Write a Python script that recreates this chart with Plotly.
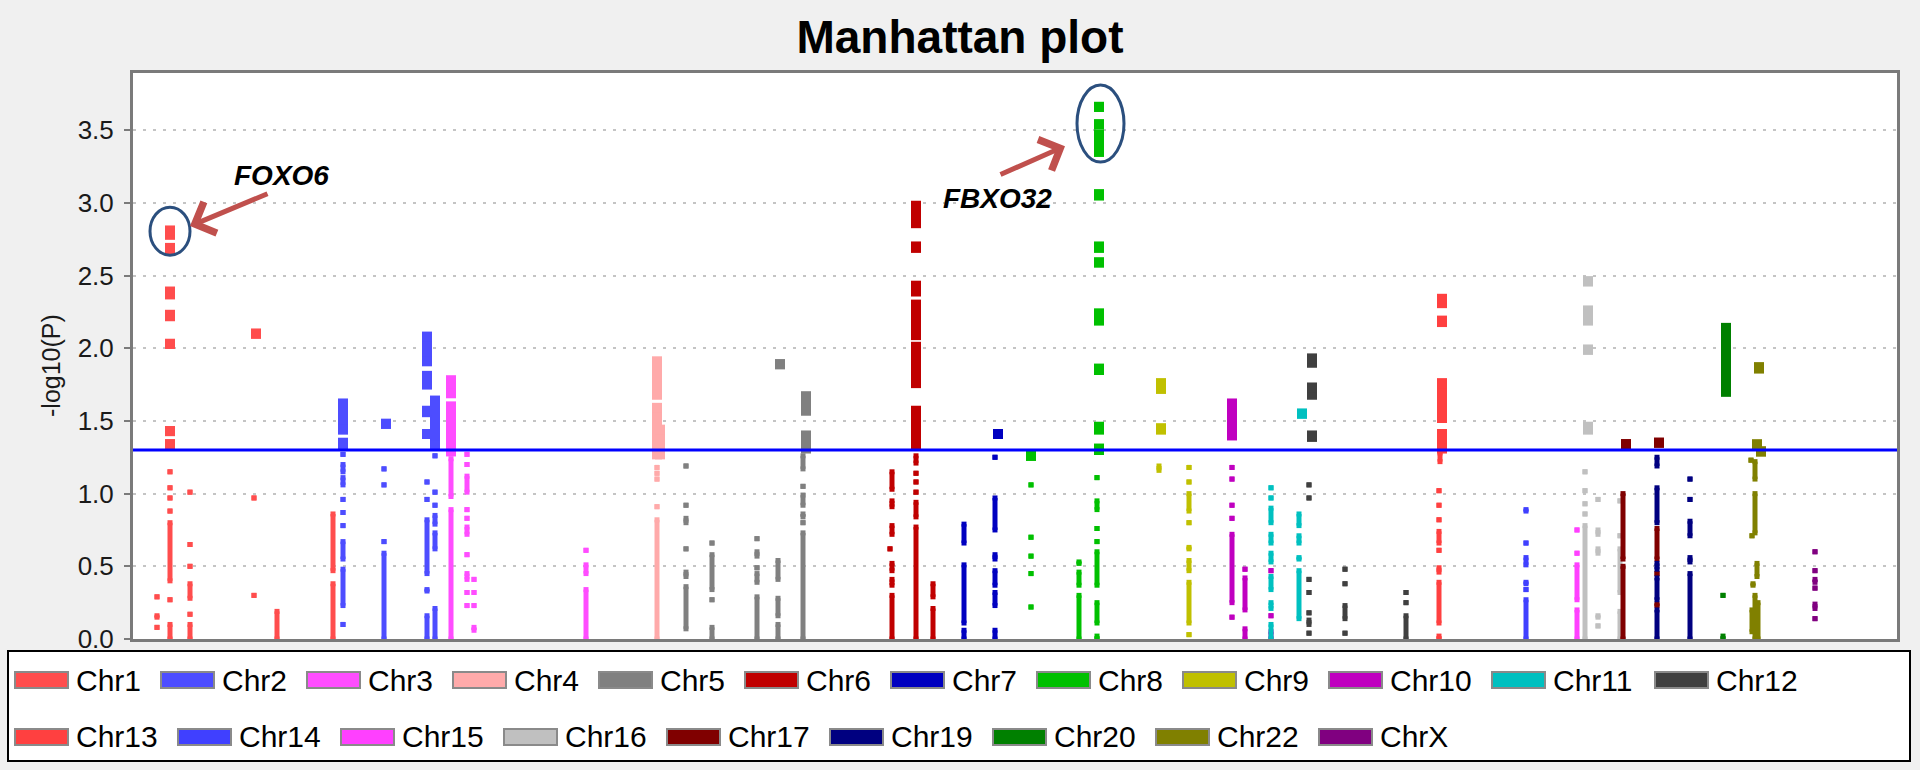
import plotly.graph_objects as go

# ---------------- data ----------------
# x = position along the genome axis (arbitrary units), values = -log10(P)
# each entry: (position, lowest -log10(P), highest -log10(P)) of a run of adjacent SNPs
CHROMS = ["Chr1", "Chr2", "Chr3", "Chr4", "Chr5", "Chr6", "Chr7", "Chr8", "Chr9", "Chr10",
          "Chr11", "Chr12", "Chr13", "Chr14", "Chr15", "Chr16", "Chr17", "Chr19", "Chr20",
          "Chr22", "ChrX"]
COLORS = ["#ff4d4d", "#4d4dff", "#ff4dff", "#ffaaaa", "#808080", "#c00000", "#0000c0",
          "#00c000", "#c0c000", "#c000c0", "#00c0c0", "#404040", "#ff4040", "#4040ff",
          "#ff40ff", "#c0c0c0", "#800000", "#000080", "#008000", "#808000", "#800080"]
THRESHOLD = 1.30  # -log10(0.05)
YTICKS = [0.0, 0.5, 1.0, 1.5, 2.0, 2.5, 3.0, 3.5]

chr1_big = [(37, 2.78, 2.81), (37, 2.68, 2.69), (37, 2.37, 2.39), (37, 2.22, 2.23),
            (37, 2.03, 2.03), (37, 1.43, 1.43), (37, 1.34, 1.34), (123, 2.10, 2.10)]
chr1_small = [(24, 0.29, 0.29), (24, 0.15, 0.16), (24, 0.08, 0.08),
              (37, 1.15, 1.15), (37, 1.04, 1.04), (37, 0.97, 0.97), (37, 0.88, 0.88),
              (37, 0.40, 0.80), (37, 0.27, 0.27), (37, 0.0, 0.10),
              (57, 1.01, 1.01), (57, 0.65, 0.65), (57, 0.50, 0.50), (57, 0.28, 0.38),
              (57, 0.17, 0.17), (57, 0.0, 0.10),
              (121, 0.97, 0.97), (121, 0.30, 0.30), (144, 0.0, 0.19),
              (200, 0.47, 0.86), (200, 0.0, 0.38)]

chr2_big = [(210, 1.44, 1.62), (210, 1.33, 1.35), (253, 1.48, 1.48),
            (294, 1.91, 2.08), (294, 1.75, 1.81), (294, 1.56, 1.57), (294, 1.41, 1.41),
            (302, 1.33, 1.64)]
chr2_small = [(210, 1.27, 1.27), (210, 1.15, 1.20), (210, 1.06, 1.11), (210, 0.96, 0.96),
              (210, 0.87, 0.87), (210, 0.78, 0.78), (210, 0.55, 0.67), (210, 0.23, 0.48),
              (210, 0.10, 0.10),
              (251, 1.17, 1.17), (251, 1.06, 1.06), (251, 0.67, 0.67), (251, 0.0, 0.59),
              (294, 1.08, 1.08), (294, 0.96, 0.96), (294, 0.45, 0.82), (294, 0.33, 0.34),
              (294, 0.0, 0.16),
              (302, 1.26, 1.26), (302, 1.01, 1.01), (302, 0.92, 0.92), (302, 0.79, 0.85),
              (302, 0.62, 0.73), (302, 0.0, 0.21)]

chr3_big = [(318, 1.69, 1.78), (318, 1.29, 1.60)]
chr3_small = [(318, 0.98, 1.24), (318, 0.0, 0.89),
              (334, 1.27, 1.27), (334, 1.20, 1.20), (334, 1.01, 1.12), (334, 0.89, 0.89),
              (334, 0.83, 0.83), (334, 0.72, 0.77), (334, 0.58, 0.58), (334, 0.41, 0.45),
              (334, 0.32, 0.32), (334, 0.23, 0.23),
              (341, 0.41, 0.41), (341, 0.32, 0.32), (341, 0.23, 0.23), (341, 0.06, 0.08),
              (453, 0.61, 0.61), (453, 0.45, 0.51), (453, 0.0, 0.34)]

chr4_big = [(524, 1.68, 1.91), (524, 1.27, 1.59), (527, 1.27, 1.44)]
chr4_small = [(524, 1.18, 1.18), (524, 1.14, 1.14), (524, 1.10, 1.10), (524, 0.91, 0.91),
              (524, 0.0, 0.82)]

chr5_big = [(647, 1.89, 1.89), (673, 1.64, 1.67), (673, 1.57, 1.60), (673, 1.31, 1.40)]
chr5_small = [(553, 1.19, 1.19), (553, 0.92, 0.92), (553, 0.80, 0.83), (553, 0.62, 0.62),
              (553, 0.43, 0.46), (553, 0.07, 0.36),
              (579, 0.66, 0.66), (579, 0.34, 0.58), (579, 0.27, 0.27), (579, 0.0, 0.08),
              (624, 0.69, 0.69), (624, 0.57, 0.60), (624, 0.49, 0.49), (624, 0.39, 0.45),
              (624, 0.0, 0.29),
              (645, 0.41, 0.54), (645, 0.16, 0.28), (645, 0.0, 0.10),
              (670, 1.17, 1.26), (670, 1.05, 1.05), (670, 0.92, 0.99), (670, 0.84, 0.86),
              (670, 0.80, 0.80), (670, 0.0, 0.73)]

chr6_big = [(783, 2.86, 2.98), (783, 2.69, 2.70), (783, 2.39, 2.43), (783, 2.09, 2.30),
            (783, 1.76, 2.01), (783, 1.33, 1.57)]
chr6_small = [(759, 1.03, 1.15), (759, 0.91, 0.95), (759, 0.72, 0.78), (757, 0.62, 0.62),
              (759, 0.47, 0.52), (759, 0.37, 0.41), (759, 0.0, 0.30),
              (783, 1.21, 1.26), (783, 1.14, 1.14), (783, 1.08, 1.08), (783, 1.01, 1.01),
              (783, 0.84, 0.94), (783, 0.0, 0.77),
              (800, 0.29, 0.38), (800, 0.0, 0.21)]

chr7_big = [(865, 1.41, 1.41)]
chr7_small = [(831, 0.66, 0.79), (831, 0.11, 0.51), (831, 0.0, 0.06),
              (862, 1.25, 1.25), (862, 0.75, 0.97), (862, 0.55, 0.58), (862, 0.37, 0.47),
              (862, 0.23, 0.32), (862, 0.0, 0.06)]

chr8_big = [(898, 1.26, 1.26), (966, 3.66, 3.66), (966, 3.54, 3.54), (966, 3.35, 3.47),
            (966, 3.05, 3.06), (966, 2.69, 2.70), (966, 2.59, 2.59), (966, 2.19, 2.24),
            (966, 1.85, 1.86), (966, 1.44, 1.46), (966, 1.30, 1.31)]
chr8_small = [(898, 1.06, 1.06), (898, 0.70, 0.70), (898, 0.57, 0.57), (898, 0.45, 0.45),
              (898, 0.22, 0.22),
              (946, 0.52, 0.53), (946, 0.37, 0.46), (946, 0.0, 0.30),
              (964, 1.11, 1.11), (964, 0.89, 0.95), (964, 0.76, 0.76), (964, 0.67, 0.67),
              (964, 0.37, 0.60), (964, 0.11, 0.25), (964, 0.0, 0.02)]

chr9_big = [(1028, 1.72, 1.76), (1028, 1.44, 1.45)]
chr9_small = [(1026, 1.16, 1.19),
              (1056, 1.18, 1.18), (1056, 1.08, 1.08), (1056, 0.88, 1.00), (1056, 0.80, 0.80),
              (1056, 0.62, 0.63), (1056, 0.47, 0.54), (1056, 0.11, 0.39), (1056, 0.03, 0.03)]

chr10_big = [(1099, 1.40, 1.62)]
chr10_small = [(1099, 1.18, 1.18), (1099, 1.10, 1.10), (1099, 0.92, 0.92), (1099, 0.83, 0.83),
               (1099, 0.25, 0.72), (1099, 0.15, 0.15),
               (1112, 0.48, 0.48), (1112, 0.20, 0.42), (1112, 0.0, 0.07)]

chr11_big = [(1169, 1.55, 1.55)]
chr11_small = [(1138, 1.04, 1.04), (1138, 0.97, 0.97), (1138, 0.80, 0.90), (1138, 0.66, 0.72),
               (1138, 0.53, 0.59), (1138, 0.34, 0.43), (1138, 0.21, 0.25), (1138, 0.0, 0.10),
               (1166, 0.78, 0.86), (1166, 0.66, 0.71), (1166, 0.55, 0.56), (1166, 0.14, 0.47)]
chr10_in11 = [(1138, 0.47, 0.47), (1138, 0.16, 0.16), (1138, 0.0, 0.05)]

chr12_big = [(1179, 1.90, 1.93), (1179, 1.68, 1.73), (1179, 1.39, 1.40)]
chr12_small = [(1176, 1.06, 1.06), (1176, 0.97, 0.97), (1176, 0.41, 0.41), (1176, 0.32, 0.32),
               (1176, 0.18, 0.18), (1176, 0.10, 0.13), (1176, 0.04, 0.04),
               (1212, 0.48, 0.48), (1212, 0.38, 0.38), (1212, 0.14, 0.23), (1212, 0.04, 0.04),
               (1273, 0.32, 0.32), (1273, 0.25, 0.25), (1273, 0.0, 0.16)]

chr13_big = [(1309, 2.31, 2.34), (1309, 2.18, 2.19), (1309, 1.52, 1.76), (1309, 1.31, 1.41)]
chr13_small = [(1307, 1.22, 1.28), (1306, 1.02, 1.02), (1306, 0.92, 0.92), (1306, 0.82, 0.82),
               (1306, 0.66, 0.74), (1306, 0.61, 0.61), (1306, 0.46, 0.49), (1306, 0.11, 0.39),
               (1306, 0.0, 0.02)]

chr14_big = []
chr14_small = [(1393, 0.88, 0.89), (1393, 0.66, 0.66), (1393, 0.51, 0.56), (1393, 0.38, 0.39),
               (1393, 0.34, 0.34), (1393, 0.0, 0.27)]

chr15_big = []
chr15_small = [(1444, 0.75, 0.75), (1444, 0.59, 0.59), (1444, 0.27, 0.51), (1444, 0.0, 0.20)]

chr16_big = [(1455, 2.46, 2.46), (1455, 2.19, 2.26), (1455, 1.99, 1.99), (1455, 1.44, 1.46)]
chr16_small = [(1452, 1.15, 1.15), (1452, 1.02, 1.02), (1452, 0.93, 0.93), (1452, 0.86, 0.86),
               (1452, 0.0, 0.78),
               (1465, 0.96, 0.96), (1465, 0.72, 0.75), (1465, 0.59, 0.62), (1465, 0.15, 0.16),
               (1465, 0.09, 0.09),
               (1487, 0.95, 0.95), (1487, 0.71, 0.71), (1487, 0.32, 0.62), (1487, 0.0, 0.19)]

chr17_big = [(1493, 1.34, 1.34), (1526, 1.35, 1.35)]
chr17_small = [(1490, 0.55, 1.00), (1490, 0.0, 0.50),
               (1524, 0.55, 0.76), (1524, 0.45, 0.45), (1524, 0.23, 0.24)]

chr19_big = []
chr19_small = [(1524, 1.19, 1.25), (1524, 0.80, 1.04), (1524, 0.48, 0.52), (1524, 0.27, 0.42),
               (1524, 0.0, 0.20),
               (1557, 1.10, 1.10), (1557, 0.96, 0.96), (1557, 0.71, 0.81), (1557, 0.53, 0.56),
               (1557, 0.0, 0.45)]

chr20_big = [(1593, 1.70, 2.14)]
chr20_small = [(1590, 0.30, 0.30), (1590, 0.0, 0.02)]

chr22_big = [(1626, 1.86, 1.87), (1624, 1.33, 1.34), (1628, 1.29, 1.29)]
chr22_small = [(1622, 1.10, 1.22), (1618, 1.23, 1.23), (1622, 0.73, 1.00), (1619, 0.71, 0.71),
               (1624, 0.43, 0.52), (1620, 0.37, 0.38), (1622, 0.0, 0.30), (1625, 0.0, 0.25),
               (1619, 0.05, 0.20)]

chrX_big = []
chrX_small = [(1682, 0.60, 0.60), (1682, 0.47, 0.47), (1682, 0.39, 0.41), (1682, 0.35, 0.35),
              (1682, 0.21, 0.24), (1682, 0.14, 0.14)]

X_RANGE = [0, 1764]
Y_RANGE = [0, 3.893]

# gene annotations: (label, position, -log10(P)) of the labelled peak
FOXO6 = ("FOXO6", 37, 2.80)
FBXO32 = ("FBXO32", 966, 3.55)

# ---------------- figure ----------------
W, H = 1920, 770
ML, MR, MT, MB = 133, 23, 73, 131
PW, PH = W - ML - MR, H - MT - MB


def fx(px):
    return (px - ML) / PW


def fy(py):
    return (H - MB - py) / PH


SERIES = [
    (chr1_big, chr1_small), (chr2_big, chr2_small), (chr3_big, chr3_small),
    (chr4_big, chr4_small), (chr5_big, chr5_small), (chr6_big, chr6_small),
    (chr7_big, chr7_small), (chr8_big, chr8_small), (chr9_big, chr9_small),
    (chr10_big, chr10_small + chr10_in11), (chr11_big, chr11_small), (chr12_big, chr12_small),
    (chr13_big, chr13_small), (chr14_big, chr14_small), (chr15_big, chr15_small),
    (chr16_big, chr16_small), (chr17_big, chr17_small), (chr19_big, chr19_small),
    (chr20_big, chr20_small), (chr22_big, chr22_small), (chrX_big, chrX_small),
]


def seg_xy(segs):
    xs, ys = [], []
    for x, lo, hi in segs:
        xs += [x, x, None]
        ys += [lo, hi, None]
    return xs, ys


fig = go.Figure()
for name, color, (big, small) in zip(CHROMS, COLORS, SERIES):
    for segs, w in ((small, 5), (big, 10)):
        if not segs:
            continue
        xs, ys = seg_xy(segs)
        fig.add_trace(go.Scatter(
            x=xs, y=ys, mode="lines+markers", name=name, showlegend=False,
            line=dict(color=color, width=w),
            marker=dict(symbol="square", size=w, color=color, line=dict(width=0)),
            connectgaps=False, hoverinfo="skip"))

FONT = "Liberation Sans, Arial, sans-serif"

fig.update_layout(
    width=W, height=H,
    margin=dict(l=ML, r=MR, t=MT, b=MB),
    paper_bgcolor="#f0f0f0", plot_bgcolor="#ffffff",
    showlegend=False,
    title=dict(text="<b>Manhattan plot</b>", x=0.5, xref="container", xanchor="center",
               y=1 - 37 / H, yref="container", yanchor="middle",
               font=dict(family=FONT, size=46, color="#000000")),
    xaxis=dict(range=X_RANGE, showticklabels=False, ticks="", showgrid=False,
               zeroline=False, showline=True, linecolor="#7a7a7a", linewidth=3,
               mirror=True),
    yaxis=dict(range=Y_RANGE, tickvals=YTICKS, ticktext=[f"{v:.1f}" for v in YTICKS],
               ticks="outside", ticklen=6, tickwidth=2, tickcolor="#7a7a7a",
               ticklabelstandoff=5,
               tickfont=dict(family=FONT, size=26, color="#1a1a1a"),
               showgrid=True, gridcolor="#c4c4c4", gridwidth=2, griddash="3px,7px",
               zeroline=False, showline=True, linecolor="#7a7a7a", linewidth=3,
               mirror=True),
)

shapes = []
# significance threshold
shapes.append(dict(type="line", xref="paper", yref="y", x0=0, x1=1,
                   y0=THRESHOLD, y1=THRESHOLD, line=dict(color="#0000ff", width=3)))
# circles around highlighted peaks
shapes.append(dict(type="circle", xref="x", yref="y", x0=FOXO6[1] - 20, x1=FOXO6[1] + 20,
                   y0=2.64, y1=2.97, line=dict(color="#2b4f7e", width=3)))
shapes.append(dict(type="circle", xref="x", yref="y", x0=FBXO32[1] - 22, x1=FBXO32[1] + 25,
                   y0=3.28, y1=3.81, line=dict(color="#2b4f7e", width=3)))

annotations = [
    dict(text="-log10(P)", xref="paper", yref="paper", x=fx(51), y=fy(366),
         textangle=-90, showarrow=False, xanchor="center", yanchor="middle",
         font=dict(family=FONT, size=25, color="#1a1a1a")),
    dict(text="<b><i>FOXO6</i></b>", xref="x", yref="y", x=148, y=3.19, showarrow=False,
         font=dict(family=FONT, size=28, color="#000000")),
    dict(text="<b><i>FBXO32</i></b>", xref="x", yref="y", x=864, y=3.03, showarrow=False,
         font=dict(family=FONT, size=28, color="#000000")),
    dict(text="", xref="x", yref="y", x=FOXO6[1] + 20, y=2.84, ax=79, ay=-33,
         showarrow=True, arrowhead=4, arrowsize=1.3, arrowwidth=5, arrowcolor="#c0504d"),
    dict(text="", xref="x", yref="y", x=FBXO32[1] - 34, y=3.39, ax=-66, ay=29,
         showarrow=True, arrowhead=4, arrowsize=1.3, arrowwidth=5, arrowcolor="#c0504d"),
]

# legend box (drawn manually to match the rectangular swatches)
shapes.append(dict(type="rect", xref="paper", yref="paper", x0=fx(8), x1=fx(1910),
                   y0=fy(761), y1=fy(651), fillcolor="#ffffff",
                   line=dict(color="#000000", width=2), layer="below"))
rows = [CHROMS[:12], CHROMS[12:]]
row_y = [680, 737]
for r, names in enumerate(rows):
    px = 15
    for name in names:
        color = COLORS[CHROMS.index(name)]
        shapes.append(dict(type="rect", xref="paper", yref="paper",
                           x0=fx(px), x1=fx(px + 53), y0=fy(row_y[r] + 8), y1=fy(row_y[r] - 8),
                           fillcolor=color, line=dict(color="#8a8a8a", width=2)))
        annotations.append(dict(text=name, xref="paper", yref="paper", x=fx(px + 59),
                                y=fy(row_y[r]), xanchor="left", yanchor="middle",
                                showarrow=False,
                                font=dict(family=FONT, size=30, color="#000000")))
        px += 78 + 17 * len(name)

fig.update_layout(shapes=shapes, annotations=annotations)
fig.write_html("out.html", config={"displayModeBar": False},
               post_script="document.body.style.margin='0';")
